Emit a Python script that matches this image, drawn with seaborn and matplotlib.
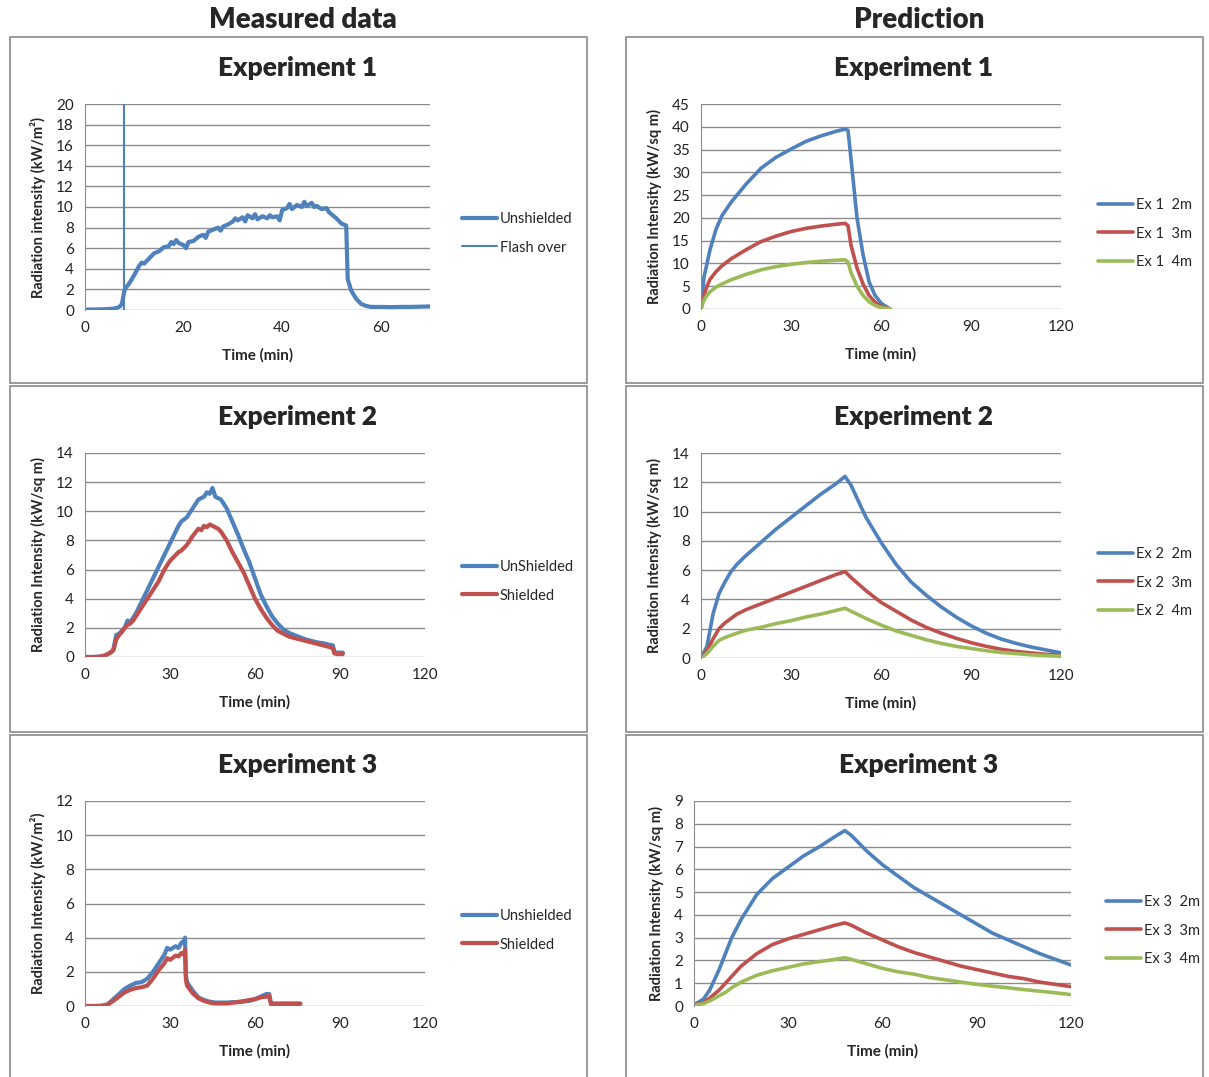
import numpy as np
import pandas as pd
import matplotlib
matplotlib.use("Agg")
import matplotlib.pyplot as plt
import seaborn as sns
from matplotlib.patches import Rectangle

# ---- colours (Excel 2007 palette)
BLUE = "#4F81BD"
RED = "#C0504D"
GREEN = "#9BBB59"

# ---- Measured, Experiment 1
m1_time = [0, 1, 2, 3, 4, 5, 6, 7, 7.5, 8, 8.5, 9, 10, 11, 11.5, 12, 13, 14, 15, 16, 17, 17.5, 18, 18.5,
           19, 20, 20.5, 21, 22, 23, 24, 24.5, 25, 26, 27, 27.5, 28, 29, 30, 30.5, 31, 32, 32.5, 33, 34,
           34.5, 35, 36, 37, 37.5, 38, 39, 39.5, 40, 41, 41.5, 42, 43, 44, 44.5, 45, 46, 46.5, 47, 48, 49,
           49.5, 50, 51, 52, 53, 53.3, 54, 55, 56, 57, 58, 60, 62, 64, 66, 68, 70]
m1_unshielded = [0.05, 0.05, 0.05, 0.06, 0.08, 0.1, 0.15, 0.3, 0.6, 1.9, 2.3, 2.6, 3.4, 4.3, 4.6, 4.5, 5.0, 5.5,
                 5.7, 6.1, 6.2, 6.6, 6.4, 6.8, 6.5, 6.3, 6.0, 6.6, 6.7, 7.1, 7.3, 7.0, 7.6, 7.8, 8.0, 7.7, 8.1,
                 8.3, 8.6, 8.9, 8.7, 9.0, 8.6, 9.2, 8.9, 9.3, 8.8, 9.1, 8.9, 9.2, 9.0, 9.1, 8.7, 9.7, 9.9, 10.3,
                 9.8, 10.2, 10.0, 10.5, 10.1, 10.4, 10.0, 10.1, 9.8, 9.9, 9.5, 9.3, 8.9, 8.4, 8.2, 3.0, 1.9,
                 1.1, 0.6, 0.4, 0.3, 0.3, 0.28, 0.3, 0.3, 0.32, 0.35]
flash_over_time = 8

# ---- Measured, Experiment 2
m2_time = [0, 3, 5, 7, 9, 10, 10.5, 11, 12, 13, 14, 15, 16, 17, 18, 20, 22, 24, 26, 28, 30, 32, 33, 34, 36, 38,
           40, 41, 42, 43, 44, 45, 46, 47, 48, 50, 52, 54, 56, 58, 60, 62, 64, 66, 68, 70, 72, 74, 76, 78,
           80, 82, 84, 86, 87.5, 88, 89, 90, 91]
m2_unshielded = [0, 0, 0.02, 0.1, 0.3, 0.5, 1.0, 1.5, 1.6, 1.8, 2.0, 2.5, 2.4, 2.7, 3.0, 3.8, 4.6, 5.4, 6.2, 7.0,
                 7.8, 8.6, 9.0, 9.3, 9.6, 10.2, 10.8, 10.9, 11.0, 11.3, 11.2, 11.6, 11.0, 10.9, 10.8, 10.2, 9.3,
                 8.4, 7.4, 6.5, 5.4, 4.3, 3.5, 2.8, 2.3, 1.9, 1.65, 1.5, 1.35, 1.2, 1.1, 1.0, 0.95, 0.85, 0.8,
                 0.35, 0.3, 0.3, 0.3]
m2_shielded = [0, 0, 0.02, 0.1, 0.3, 0.45, 0.8, 1.2, 1.5, 1.7, 2.0, 2.2, 2.3, 2.5, 2.8, 3.4, 4.0, 4.6, 5.2, 6.0,
               6.6, 7.0, 7.2, 7.3, 7.7, 8.3, 8.8, 8.7, 9.0, 8.9, 9.1, 9.0, 8.9, 8.8, 8.6, 8.0, 7.2, 6.5, 5.8,
               4.9, 4.0, 3.3, 2.7, 2.2, 1.8, 1.6, 1.4, 1.3, 1.2, 1.1, 1.0, 0.9, 0.8, 0.7, 0.6, 0.25, 0.2, 0.2,
               0.2]

# ---- Measured, Experiment 3
m3_time = [0, 4, 6, 8, 10, 12, 14, 16, 18, 20, 22, 24, 26, 28, 29, 30, 32, 33, 34, 35, 35.3, 35.6, 36, 38, 40,
           42, 44, 46, 50, 55, 58, 60, 62, 64, 65, 65.6, 66, 70, 76]
m3_unshielded = [0, 0, 0.02, 0.1, 0.4, 0.7, 1.0, 1.2, 1.35, 1.4, 1.6, 2.0, 2.5, 3.0, 3.4, 3.3, 3.5, 3.4, 3.7, 3.8,
                 4.0, 1.8, 1.4, 0.9, 0.5, 0.35, 0.25, 0.2, 0.2, 0.25, 0.3, 0.4, 0.55, 0.7, 0.7, 0.2, 0.15,
                 0.15, 0.15]
m3_shielded = [0, 0, 0, 0.08, 0.3, 0.55, 0.8, 0.95, 1.05, 1.1, 1.2, 1.6, 2.1, 2.5, 2.8, 2.7, 2.95, 2.9, 3.1, 3.0,
               3.3, 1.6, 1.2, 0.75, 0.45, 0.3, 0.2, 0.15, 0.15, 0.25, 0.35, 0.4, 0.5, 0.55, 0.6, 0.12, 0.1,
               0.12, 0.12]

# ---- Prediction, Experiment 1
p1_time = [0, 1, 2, 3, 5, 7, 10, 15, 20, 25, 30, 35, 40, 45, 48, 49, 50, 52, 54, 56, 58, 60, 62, 63]
p1_2m = [0, 7, 10, 13, 17.5, 20.5, 23.4, 27.4, 30.9, 33.3, 35.1, 36.8, 38.0, 39.0, 39.5, 39.2, 33, 20, 12, 6,
         3, 1.3, 0.4, 0]
p1_3m = [0, 3, 5, 6.5, 8.2, 9.5, 11, 13, 14.8, 16, 17, 17.7, 18.2, 18.6, 18.8, 18.3, 14, 9, 5.5, 3, 1.5, 0.6,
         0.2, 0]
p1_4m = [0, 2, 3, 3.8, 4.8, 5.5, 6.4, 7.6, 8.6, 9.3, 9.8, 10.2, 10.5, 10.7, 10.8, 10.3, 8, 5, 3, 1.6, 0.8,
         0.3, 0.1, 0]

# ---- Prediction, Experiment 2
p2_time = [0, 2, 4, 6, 8, 10, 12, 15, 20, 25, 30, 35, 40, 45, 48, 50, 55, 60, 65, 70, 75, 80, 85, 90, 95, 100,
           105, 110, 115, 120]
p2_2m = [0, 0.8, 3.0, 4.4, 5.2, 5.9, 6.4, 7.0, 7.9, 8.8, 9.6, 10.4, 11.2, 11.9, 12.4, 11.8, 9.6, 7.9, 6.4, 5.2,
         4.3, 3.5, 2.8, 2.2, 1.7, 1.3, 1.0, 0.75, 0.55, 0.35]
p2_3m = [0, 0.5, 1.3, 2.0, 2.4, 2.7, 3.0, 3.3, 3.7, 4.1, 4.5, 4.9, 5.3, 5.7, 5.9, 5.5, 4.6, 3.8, 3.2, 2.6, 2.1,
         1.7, 1.35, 1.05, 0.8, 0.6, 0.45, 0.35, 0.25, 0.2]
p2_4m = [0, 0.3, 0.8, 1.2, 1.4, 1.55, 1.7, 1.9, 2.1, 2.35, 2.55, 2.8, 3.0, 3.25, 3.4, 3.2, 2.7, 2.25, 1.85,
         1.55, 1.25, 1.0, 0.8, 0.65, 0.5, 0.38, 0.3, 0.22, 0.17, 0.12]

# ---- Prediction, Experiment 3
p3_time = [0, 3, 5, 8, 10, 12, 15, 20, 25, 30, 35, 40, 45, 48, 50, 55, 60, 65, 70, 75, 80, 85, 90, 95, 100,
           105, 110, 115, 120]
p3_2m = [0.05, 0.3, 0.7, 1.6, 2.3, 3.0, 3.8, 4.9, 5.6, 6.1, 6.6, 7.0, 7.45, 7.7, 7.5, 6.8, 6.2, 5.7, 5.2, 4.8,
         4.4, 4.0, 3.6, 3.2, 2.9, 2.6, 2.3, 2.05, 1.8]
p3_3m = [0.05, 0.15, 0.35, 0.7, 1.0, 1.3, 1.75, 2.3, 2.7, 2.95, 3.15, 3.35, 3.55, 3.65, 3.55, 3.2, 2.9, 2.6,
         2.35, 2.15, 1.95, 1.75, 1.6, 1.45, 1.3, 1.2, 1.05, 0.95, 0.85]
p3_4m = [0.03, 0.1, 0.22, 0.45, 0.6, 0.8, 1.05, 1.35, 1.55, 1.7, 1.85, 1.95, 2.05, 2.12, 2.05, 1.85, 1.65,
         1.5, 1.4, 1.25, 1.15, 1.05, 0.95, 0.87, 0.8, 0.72, 0.65, 0.58, 0.5]

W, H = 1209, 1077
sns.set_style("white")
plt.rcParams['font.family'] = ['Lato', 'DejaVu Sans']

fig = plt.figure(figsize=(W / 100, H / 100), dpi=100)


def px_axes(left, right, top, bottom):
    return fig.add_axes([left / W, 1 - bottom / H, (right - left) / W, (bottom - top) / H])


def style_axes(ax, xlim, xticks, ylim, yticks, ylabel, title, title_x, title_y):
    ax.set_xlim(*xlim)
    ax.set_ylim(*ylim)
    ax.set_xticks(xticks)
    ax.set_yticks(yticks)
    ax.yaxis.grid(True, color="#8c8c8c", linewidth=1)
    ax.xaxis.grid(False)
    ax.set_axisbelow(True)
    for s in ["top", "right", "bottom"]:
        ax.spines[s].set_visible(False)
    ax.spines["left"].set_color("#8c8c8c")
    ax.tick_params(length=0, labelsize=11, colors="#222222", pad=8)
    ax.set_xlabel("Time (min)", fontsize=11, fontweight="bold", labelpad=9)
    ax.set_ylabel(ylabel, fontsize=10.5, fontweight="bold", labelpad=7)
    fig.text(title_x / W, 1 - title_y / H, title, fontsize=19, fontweight="heavy",
             ha="center", va="center")


def place_legend(ax, x, y):
    ax.legend(loc="upper left", bbox_to_anchor=(x / W, 1 - y / H), bbox_transform=fig.transFigure,
              frameon=False, fontsize=10.5, handlelength=2.4, handletextpad=0.2, labelspacing=1.0,
              borderpad=0, borderaxespad=0)


def draw(ax, t, y, color, label, lw=2.6):
    df = pd.DataFrame({"t": t, "y": y})
    sns.lineplot(data=df, x="t", y="y", ax=ax, color=color, label=label, linewidth=lw,
                 estimator=None, sort=False)


# panel borders
for (l, r) in [(10, 587), (626, 1203)]:
    for (t, b) in [(37, 383), (386, 732), (735, 1090)]:
        fig.patches.append(Rectangle((l / W, 1 - b / H), (r - l) / W, (b - t) / H,
                                     transform=fig.transFigure, fill=False,
                                     edgecolor="#8a8a8a", linewidth=1.2))

fig.text(303 / W, 1 - 20 / H, "Measured data", fontsize=20, fontweight="heavy", ha="center", va="center")
fig.text(919 / W, 1 - 20 / H, "Prediction", fontsize=20, fontweight="heavy", ha="center", va="center")

x120 = [0, 30, 60, 90, 120]

# Measured 1
ax = px_axes(85, 430, 104, 310)
draw(ax, m1_time, m1_unshielded, BLUE, "Unshielded", lw=3)
ax.axvline(flash_over_time, color=BLUE, linewidth=1.5, label="Flash over")
style_axes(ax, (0, 70), [0, 20, 40, 60], (0, 20), range(0, 21, 2),
           "Radiation intensity (kW/m²)", "Experiment 1", 298, 68)
place_legend(ax, 462, 212)

# Prediction 1
ax = px_axes(701, 1061, 104, 309)
draw(ax, p1_time, p1_2m, BLUE, "Ex 1  2m")
draw(ax, p1_time, p1_3m, RED, "Ex 1  3m")
draw(ax, p1_time, p1_4m, GREEN, "Ex 1  4m")
style_axes(ax, (0, 120), x120, (0, 45), range(0, 46, 5),
           "Radiation Intensity (kW/sq m)", "Experiment 1", 914, 68)
place_legend(ax, 1098, 198)

# Measured 2
ax = px_axes(85, 425, 453, 657)
draw(ax, m2_time, m2_unshielded, BLUE, "UnShielded", lw=3)
draw(ax, m2_time, m2_shielded, RED, "Shielded", lw=3)
style_axes(ax, (0, 120), x120, (0, 14), range(0, 15, 2),
           "Radiation Intensity (kW/sq m)", "Experiment 2", 298, 417)
place_legend(ax, 462, 560)

# Prediction 2
ax = px_axes(701, 1061, 453, 658)
draw(ax, p2_time, p2_2m, BLUE, "Ex 2  2m")
draw(ax, p2_time, p2_3m, RED, "Ex 2  3m")
draw(ax, p2_time, p2_4m, GREEN, "Ex 2  4m")
style_axes(ax, (0, 120), x120, (0, 14), range(0, 15, 2),
           "Radiation Intensity (kW/sq m)", "Experiment 2", 914, 417)
place_legend(ax, 1098, 547)

# Measured 3
ax = px_axes(85, 425, 801, 1006)
draw(ax, m3_time, m3_unshielded, BLUE, "Unshielded", lw=3)
draw(ax, m3_time, m3_shielded, RED, "Shielded", lw=3)
style_axes(ax, (0, 120), x120, (0, 12), range(0, 13, 2),
           "Radiation Intensity (kW/m²)", "Experiment 3", 298, 765)
place_legend(ax, 462, 909)

# Prediction 3
ax = px_axes(694, 1071, 801, 1006)
draw(ax, p3_time, p3_2m, BLUE, "Ex 3  2m")
draw(ax, p3_time, p3_3m, RED, "Ex 3  3m")
draw(ax, p3_time, p3_4m, GREEN, "Ex 3  4m")
style_axes(ax, (0, 120), x120, (0, 9), range(0, 10, 1),
           "Radiation Intensity (kW/sq m)", "Experiment 3", 919, 765)
place_legend(ax, 1106, 895)

fig.savefig("out.png", dpi=100)
